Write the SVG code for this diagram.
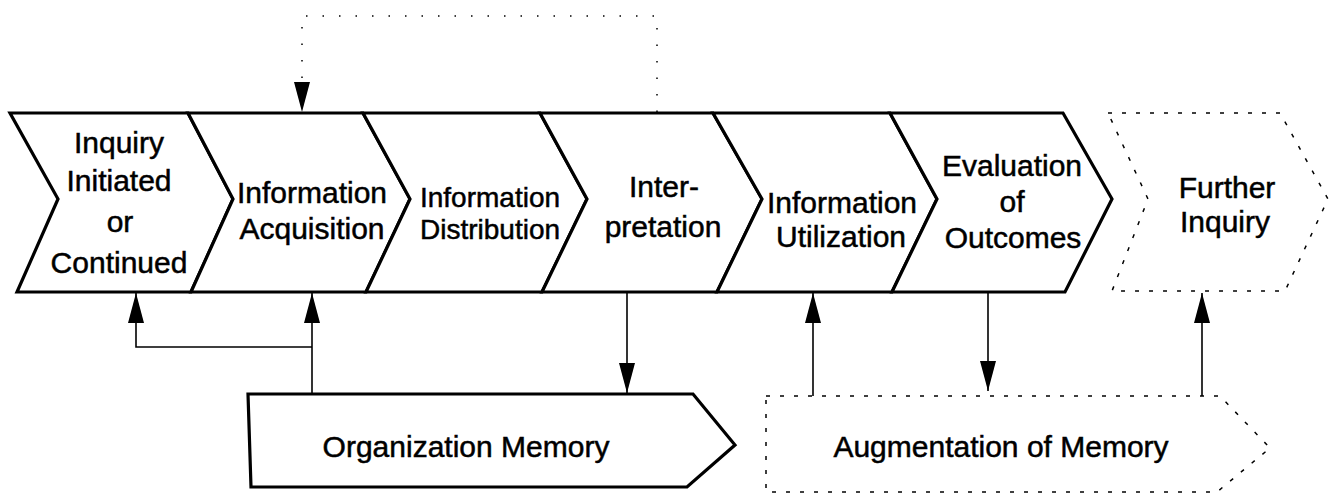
<svg xmlns="http://www.w3.org/2000/svg" width="1334" height="494" viewBox="0 0 1334 494">
<style>
.stage{fill:#fff;stroke:#000;stroke-width:3.2;stroke-linejoin:miter}
.dashed{fill:#fff;stroke:#000;stroke-width:1.5;stroke-dasharray:4 10}
.lbl{font-family:"Liberation Sans",Arial,sans-serif;font-size:30px;fill:#000;stroke:#000;stroke-width:0.5;text-anchor:middle}
.sm{font-size:28px}
.conn{fill:none;stroke:#000;stroke-width:1.6}
.dot{fill:none;stroke:#000;stroke-width:1.5;stroke-dasharray:1.5 15}
</style>
<defs>
<marker id="ah" viewBox="0 0 30 16" refX="30" refY="8" markerWidth="30" markerHeight="16" markerUnits="userSpaceOnUse" orient="auto">
<path d="M0,0 L30,8 L0,16 Z" fill="#000"/>
</marker>
</defs>
<rect width="1334" height="494" fill="#fff"/>
<g id="inquiry">
<polygon class="stage" points="10,113 188,113 233,199 191,292 17,292 58,199"/>
<text class="lbl" x="119" y="153">Inquiry</text>
<text class="lbl" x="119" y="191">Initiated</text>
<text class="lbl" x="120" y="232">or</text>
<text class="lbl" x="119" y="273">Continued</text>
</g>
<g id="acquisition">
<polygon class="stage" points="188,113 363,113 410,199 366,292 191,292 233,199"/>
<text class="lbl" x="312" y="203">Information</text>
<text class="lbl" x="312" y="239">Acquisition</text>
</g>
<g id="distribution">
<polygon class="stage" points="363,113 540,113 587,199 542,292 366,292 410,199"/>
<text class="lbl sm" x="490" y="207">Information</text>
<text class="lbl sm" x="490" y="239">Distribution</text>
</g>
<g id="interpretation">
<polygon class="stage" points="540,113 713,113 762,199 717,292 542,292 587,199"/>
<text class="lbl" x="664" y="197">Inter-</text>
<text class="lbl" x="663" y="237">pretation</text>
</g>
<g id="utilization">
<polygon class="stage" points="713,113 890,113 937,199 892,292 717,292 762,199"/>
<text class="lbl" x="842" y="213">Information</text>
<text class="lbl" x="841" y="247">Utilization</text>
</g>
<g id="evaluation">
<polygon class="stage" points="890,113 1063,113 1112,199 1065,292 892,292 937,199"/>
<text class="lbl" x="1012" y="176">Evaluation</text>
<text class="lbl" x="1012" y="212">of</text>
<text class="lbl" x="1013" y="248">Outcomes</text>
</g>
<g id="further">
<polygon class="dashed" points="1108,113 1280,113 1328,199 1285,291 1112,291 1148,199"/>
<text class="lbl" x="1227" y="198">Further</text>
<text class="lbl" x="1225" y="232">Inquiry</text>
</g>
<g id="orgmemory">
<polygon class="stage" points="248,394 693,394 735,445 687,487 251,487"/>
<text class="lbl" x="466" y="457">Organization Memory</text>
</g>
<g id="augmentation">
<polygon class="dashed" points="766,396 1220,396 1270,448 1217,492 766,492"/>
<text class="lbl" x="1001" y="457">Augmentation of Memory</text>
</g>
<g id="connectors">
<path class="dot" d="M657,112 V16 H302 V82"/>
<path class="conn" d="M302,80 V112" marker-end="url(#ah)" stroke-dasharray="0 40"/>
<path class="conn" d="M312,394 V293" marker-end="url(#ah)"/>
<path class="conn" d="M312,347 H136 V293" marker-end="url(#ah)"/>
<path class="conn" d="M627,293 V393" marker-end="url(#ah)"/>
<path class="conn" d="M813,396 V293" marker-end="url(#ah)"/>
<path class="conn" d="M988,293 V391" marker-end="url(#ah)"/>
<path class="conn" d="M1202,396 V293" marker-end="url(#ah)"/>
</g>
</svg>
